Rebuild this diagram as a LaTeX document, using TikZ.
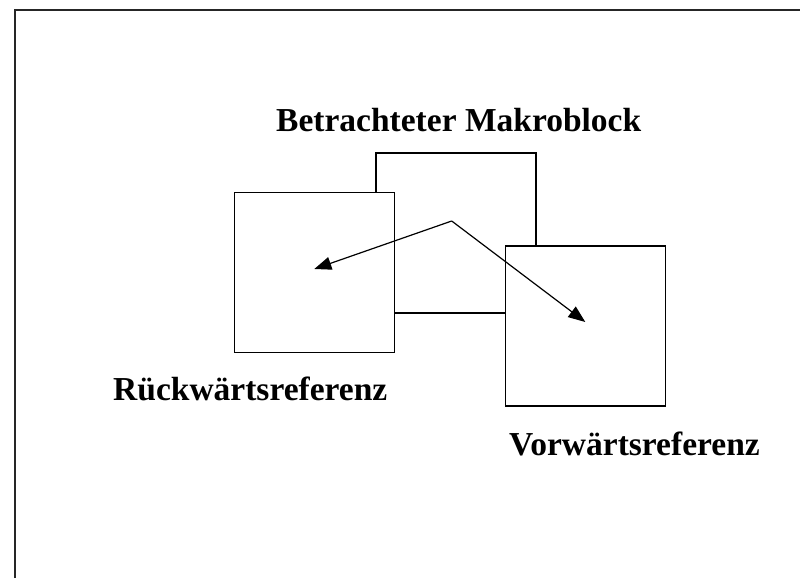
\documentclass[tikz,border=0pt]{standalone}
\usepackage{fontspec}
\setmainfont{Liberation Serif}
\usetikzlibrary{arrows.meta}
\begin{document}
\begin{tikzpicture}[x=1pt,y=-1pt,
  blk/.style={draw=black, fill=white, line width=1.3pt, minimum width=160pt, minimum height=160pt, inner sep=0pt, outer sep=0pt},
  lbl/.style={font=\fontsize{33.5}{36}\selectfont\bfseries, inner sep=0pt, anchor=base west},
  mv/.style={line width=1.2pt, -{Triangle[length=17pt,width=13pt]}}]
\useasboundingbox (0,0) rectangle (800,578);
% page frame, open at the right and bottom
\draw[line width=1.6pt, draw=black!85] (15,578) -- (15,10) -- (800,10);
% current macroblock and its two reference blocks
\node[blk] (cur) at (456,233) {};
\node[blk] (bwd) at (314.6,272.6) {};
\node[blk] (fwd) at (585.4,326) {};
% motion vectors
\coordinate (mvsrc) at (451.7,221);
\coordinate (bwdtip) at (314.3,269);
\coordinate (fwdtip) at (585.3,322);
\draw[mv] (mvsrc) -- (bwdtip);
\draw[mv] (mvsrc) -- (fwdtip);
% labels
\node[lbl] (curlbl) at (276,131.7) {Betrachteter Makroblock};
\node[lbl] (bwdlbl) at (113,400) {Rückwärtsreferenz};
\node[lbl] (fwdlbl) at (509,455) {Vorwärtsreferenz};
\end{tikzpicture}
\end{document}
